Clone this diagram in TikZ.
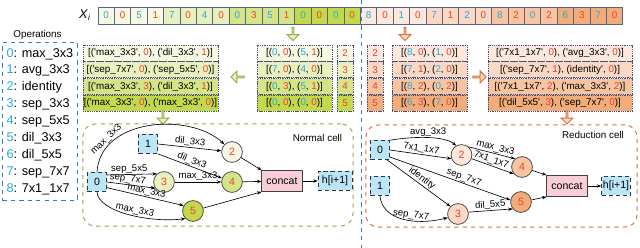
\documentclass[tikz,border=0pt]{standalone}
\usepackage{fontspec}
\setmainfont{Liberation Sans}[Ligatures=TeXOff]
\usetikzlibrary{positioning}
\usetikzlibrary{shapes.arrows, arrows.meta}

\definecolor{numblue}{RGB}{38,168,224}
\definecolor{numred}{RGB}{236,64,50}
\definecolor{seq0}{RGB}{246,248,226}
\definecolor{seq1}{RGB}{232,240,190}
\definecolor{seq2}{RGB}{214,228,136}
\definecolor{seq3}{RGB}{196,216,76}
\definecolor{seq4}{RGB}{252,232,220}
\definecolor{seq5}{RGB}{250,216,196}
\definecolor{seq6}{RGB}{247,196,162}
\definecolor{seq7}{RGB}{242,172,122}
\definecolor{gridgray}{RGB}{90,100,130}
\definecolor{rowline}{RGB}{70,80,120}
\definecolor{inblue}{RGB}{188,230,248}
\definecolor{concatpink}{RGB}{250,206,216}
\definecolor{oliveline}{RGB}{150,168,80}
\definecolor{orangeline}{RGB}{222,110,56}
\definecolor{divblue}{RGB}{40,130,200}

\newcommand\rn[1]{\textcolor{numred}{#1}}
\newcommand\bn[1]{\textcolor{numblue}{#1}}

\begin{document}
\begin{tikzpicture}[x=0.025cm, y=-0.025cm,
  font=\fontsize{7}{8.4}\selectfont,
  seqcell/.style={rectangle, draw=gridgray, line width=0.5pt, minimum width=0.41cm, minimum height=0.425cm, inner sep=0pt},
  row/.style={rectangle, draw=rowline, dash pattern=on 0.9pt off 0.7pt, line width=0.55pt, minimum height=0.4cm, inner sep=0pt},
  hollow/.style={single arrow, draw=#1, line width=0.7pt, minimum height=0.33cm, minimum width=0.3cm, single arrow head extend=0.07cm, inner sep=0pt},
  cellbox/.style={rectangle, draw=#1, dashed, line width=0.7pt, rounded corners=0.3cm, minimum width=6.75cm, minimum height=2.55cm},
  inbox/.style={rectangle, draw=black!80, densely dashed, fill=inblue, minimum size=0.475cm, inner sep=0pt, font=\fontsize{7.5}{9}\selectfont},
  opnode/.style={circle, draw=black!75, line width=0.5pt, minimum size=0.52cm, inner sep=0pt, text=numred, font=\fontsize{7.5}{9}\selectfont},
  catbox/.style={rectangle, draw=black!75, fill=concatpink, minimum width=1cm, minimum height=0.53cm, font=\fontsize{7.5}{9}\selectfont},
  link/.style={-{Stealth[length=3.2pt, width=2.4pt]}, line width=0.45pt},
  lbl/.style={font=\fontsize{6.8}{8}\selectfont, inner sep=0.6pt}
]
  \useasboundingbox (0,0) rectangle (640,248);

  \node (xi) at (85,15) {\fontsize{9}{9}\selectfont\textit{X}\textsubscript{\textit{i}}};
  \foreach \d [count=\k from 0] in {0,0,5,1,7,0,4,0,0,3,5,1,0,0,0,0,8,0,1,0,7,1,2,0,8,2,0,2,6,3,7,0}{
    \pgfmathtruncatemacro\grp{\k/4}
    \ifodd\k\relax \def\dc{numred}\else \def\dc{numblue}\fi
    \node[seqcell, fill=seq\grp, text=\dc] (s\k) at ({106.2+16.4*\k},15.5) {\d};
  }
  \draw[divblue, dashed, line width=0.6pt] (361,0) -- (361,248);

  \node (opstitle) at (37.5,35) {Operations};
  \node[draw=divblue, dashed, line width=0.6pt, align=left, anchor=north west, minimum width=1.8cm, minimum height=3.95cm, inner sep=3pt, font=\fontsize{9}{12}\selectfont] (ops) at (2,42)
    {\bn{0}: max\_3x3\\ \bn{1}: avg\_3x3\\ \bn{2}: identity\\ \bn{3}: sep\_3x3\\ \bn{4}: sep\_5x5\\ \bn{5}: dil\_3x3\\ \bn{6}: dil\_5x5\\ \bn{7}: sep\_7x7\\ \bn{8}: 7x1\_1x7};

  \node[row, fill=seq0, minimum width=3.375cm] (nl1) at (150.5,53) {[('max\_3x3', \rn{0}), ('dil\_3x3', \rn{1})]};
  \node[row, fill=seq1, minimum width=3.375cm, below=0pt of nl1] (nl2) {[('sep\_7x7', \rn{0}), ('sep\_5x5', \rn{0})]};
  \node[row, fill=seq2, minimum width=3.375cm, below=0pt of nl2] (nl3) {[('max\_3x3', \rn{3}), ('dil\_3x3', \rn{1})]};
  \node[row, fill=seq3, minimum width=3.375cm, below=0pt of nl3] (nl4) {[('max\_3x3', \rn{0}), ('max\_3x3', \rn{0})]};

  \node[row, fill=seq0, minimum width=1.875cm] (nt1) at (294.5,53) {[(\bn{0}, \rn{0}), (\bn{5}, \rn{1})]};
  \node[row, fill=seq1, minimum width=1.875cm, below=0pt of nt1] (nt2) {[(\bn{7}, \rn{0}), (\bn{4}, \rn{0})]};
  \node[row, fill=seq2, minimum width=1.875cm, below=0pt of nt2] (nt3) {[(\bn{0}, \rn{3}), (\bn{5}, \rn{1})]};
  \node[row, fill=seq3, minimum width=1.875cm, below=0pt of nt3] (nt4) {[(\bn{0}, \rn{0}), (\bn{0}, \rn{0})]};

  \node[row, fill=seq0, minimum width=0.4cm, text=numred] (nn1) at (345,53) {2};
  \node[row, fill=seq1, minimum width=0.4cm, text=numred, below=0pt of nn1] (nn2) {3};
  \node[row, fill=seq2, minimum width=0.4cm, text=numred, below=0pt of nn2] (nn3) {4};
  \node[row, fill=seq3, minimum width=0.4cm, text=numred, below=0pt of nn3] (nn4) {5};

  \node[row, fill=seq4, minimum width=0.4cm, text=numred] (on1) at (375,53) {2};
  \node[row, fill=seq5, minimum width=0.4cm, text=numred, below=0pt of on1] (on2) {3};
  \node[row, fill=seq6, minimum width=0.4cm, text=numred, below=0pt of on2] (on3) {4};
  \node[row, fill=seq7, minimum width=0.4cm, text=numred, below=0pt of on3] (on4) {5};

  \node[row, fill=seq4, minimum width=1.875cm] (ot1) at (429.5,53) {[(\bn{8}, \rn{0}), (\bn{1}, \rn{0})]};
  \node[row, fill=seq5, minimum width=1.875cm, below=0pt of ot1] (ot2) {[(\bn{7}, \rn{1}), (\bn{2}, \rn{0})]};
  \node[row, fill=seq6, minimum width=1.875cm, below=0pt of ot2] (ot3) {[(\bn{8}, \rn{2}), (\bn{0}, \rn{2})]};
  \node[row, fill=seq7, minimum width=1.875cm, below=0pt of ot3] (ot4) {[(\bn{6}, \rn{3}), (\bn{7}, \rn{0})]};

  \node[row, fill=seq4, minimum width=3.6cm] (ol1) at (560,53) {[('7x1\_1x7', \rn{0}), ('avg\_3x3', \rn{0})]};
  \node[row, fill=seq5, minimum width=3.6cm, below=0pt of ol1] (ol2) {[('sep\_7x7', \rn{1}), (identity', \rn{0})]};
  \node[row, fill=seq6, minimum width=3.6cm, below=0pt of ol2] (ol3) {[('7x1\_1x7', \rn{2}), ('max\_3x3', \rn{2})]};
  \node[row, fill=seq7, minimum width=3.6cm, below=0pt of ol3] (ol4) {[('dil\_5x5', \rn{3}), ('sep\_7x7', \rn{0})]};

  \node[hollow=oliveline, fill=seq1, shape border rotate=270] (gdown) at (293,33.5) {};
  \node[hollow=orangeline, fill=seq5, shape border rotate=270] (odown) at (405,33.5) {};
  \node[hollow=oliveline, fill=seq1, shape border rotate=180] (gleft) at (238,77) {};
  \node[hollow=orangeline, fill=seq5] (oright) at (479,77) {};
  \node[hollow=oliveline, fill=seq1, shape border rotate=270] (gcell) at (163,117) {};
  \node[hollow=orangeline, fill=seq5, shape border rotate=270] (ocell) at (567,117) {};

  \node[cellbox=oliveline] (normal) at (218,175) {};
  \node[cellbox=orangeline, minimum width=6.775cm] (reduce) at (501.5,176) {};
  \node (ntitle) at (317.5,138) {Normal cell};
  \node (rtitle) at (593,135) {Reduction cell};

  \node[inbox] (n0) at (97,182) {0};
  \node[inbox] (n1) at (148,144) {1};
  \node[opnode, fill=seq0] (n2) at (232,152) {2};
  \node[opnode, fill=seq1] (n3) at (164,182) {3};
  \node[opnode, fill=seq2] (n4) at (232,182) {4};
  \node[opnode, fill=seq3] (n5) at (193,211) {5};
  \node[catbox] (ncat) at (282,181) {concat};
  \node[inbox, minimum width=0.85cm] (nout) at (335,181) {h[i+1]};

  \draw[link] (n0.north) .. controls (100,118) and (190,112) .. (n2.north west) node[lbl, pos=0.22, sloped, above] {max\_3x3};
  \draw[link] (n1.east) -- (n2) node[lbl, midway, above, sloped] {dil\_3x3};
  \draw[link] (n1.south east) -- (n4) node[lbl, midway, above, sloped] {dil\_3x3};
  \draw[link] ([yshift=5pt]n0.east) -- (n3.131) node[lbl, pos=0.45, above, sloped] {sep\_5x5};
  \draw[link] (n0.east) -- (n3.215) node[lbl, pos=0.42, above, sloped] {sep\_7x7};
  \draw[link] ([yshift=-4pt]n0.east) -- (n5.150) node[lbl, midway, above, sloped] {max\_3x3};
  \draw[link] (n0.south) .. controls (98,212) and (150,223) .. (n5.225) node[lbl, pos=0.55, above, sloped] {max\_3x3};
  \draw[link] (n3) -- (n4) node[lbl, midway, above] {max\_3x3};
  \draw[link] (n2) -- (ncat.north west);
  \draw[link] (n4) -- (ncat);
  \draw[link] (n5) -- (ncat.south west);
  \draw[link] (ncat) -- (nout);

  \node[inbox] (r0) at (380,150) {0};
  \node[inbox] (r1) at (380,186) {1};
  \node[opnode, fill=seq4] (r2) at (461.5,155) {2};
  \node[opnode, fill=seq5] (r3) at (458,214) {3};
  \node[opnode, fill=seq6] (r4) at (522,167) {4};
  \node[opnode, fill=seq7] (r5) at (521,202) {5};
  \node[catbox] (rcat) at (567,186) {concat};
  \node[inbox, minimum width=0.72cm] (rout) at (616,186) {h[i+1]};

  \draw[link] (r0.north east) .. controls (415,136) and (445,136) .. (r2.120) node[lbl, midway, above] {avg\_3x3};
  \draw[link] (r0.east) -- (r2.200) node[lbl, midway, above, sloped] {7x1\_1x7};
  \draw[link] (r2.50) -- (r4.130) node[lbl, pos=0.55, above, sloped] {max\_3x3};
  \draw[link] (r2.340) -- (r4.220) node[lbl, pos=0.42, above, sloped] {7x1\_1x7};
  \draw[link] ([yshift=2pt]r0.south east) -- (r5.170) node[lbl, pos=0.6, above, sloped] {sep\_7x7};
  \draw[link] ([xshift=-2pt]r0.south east) -- (r3.135) node[lbl, midway, above, sloped] {identity};
  \draw[link] (r1.south) .. controls (382,220) and (415,226) .. (r3.200) node[lbl, pos=0.6, above, sloped] {sep\_7x7};
  \draw[link] (r3.10) -- (r5.220) node[lbl, midway, above, sloped] {dil\_5x5};
  \draw[link] (r4) -- (rcat.north west);
  \draw[link] (r5) -- (rcat.south west);
  \draw[link] (rcat) -- (rout);
\end{tikzpicture}
\end{document}
